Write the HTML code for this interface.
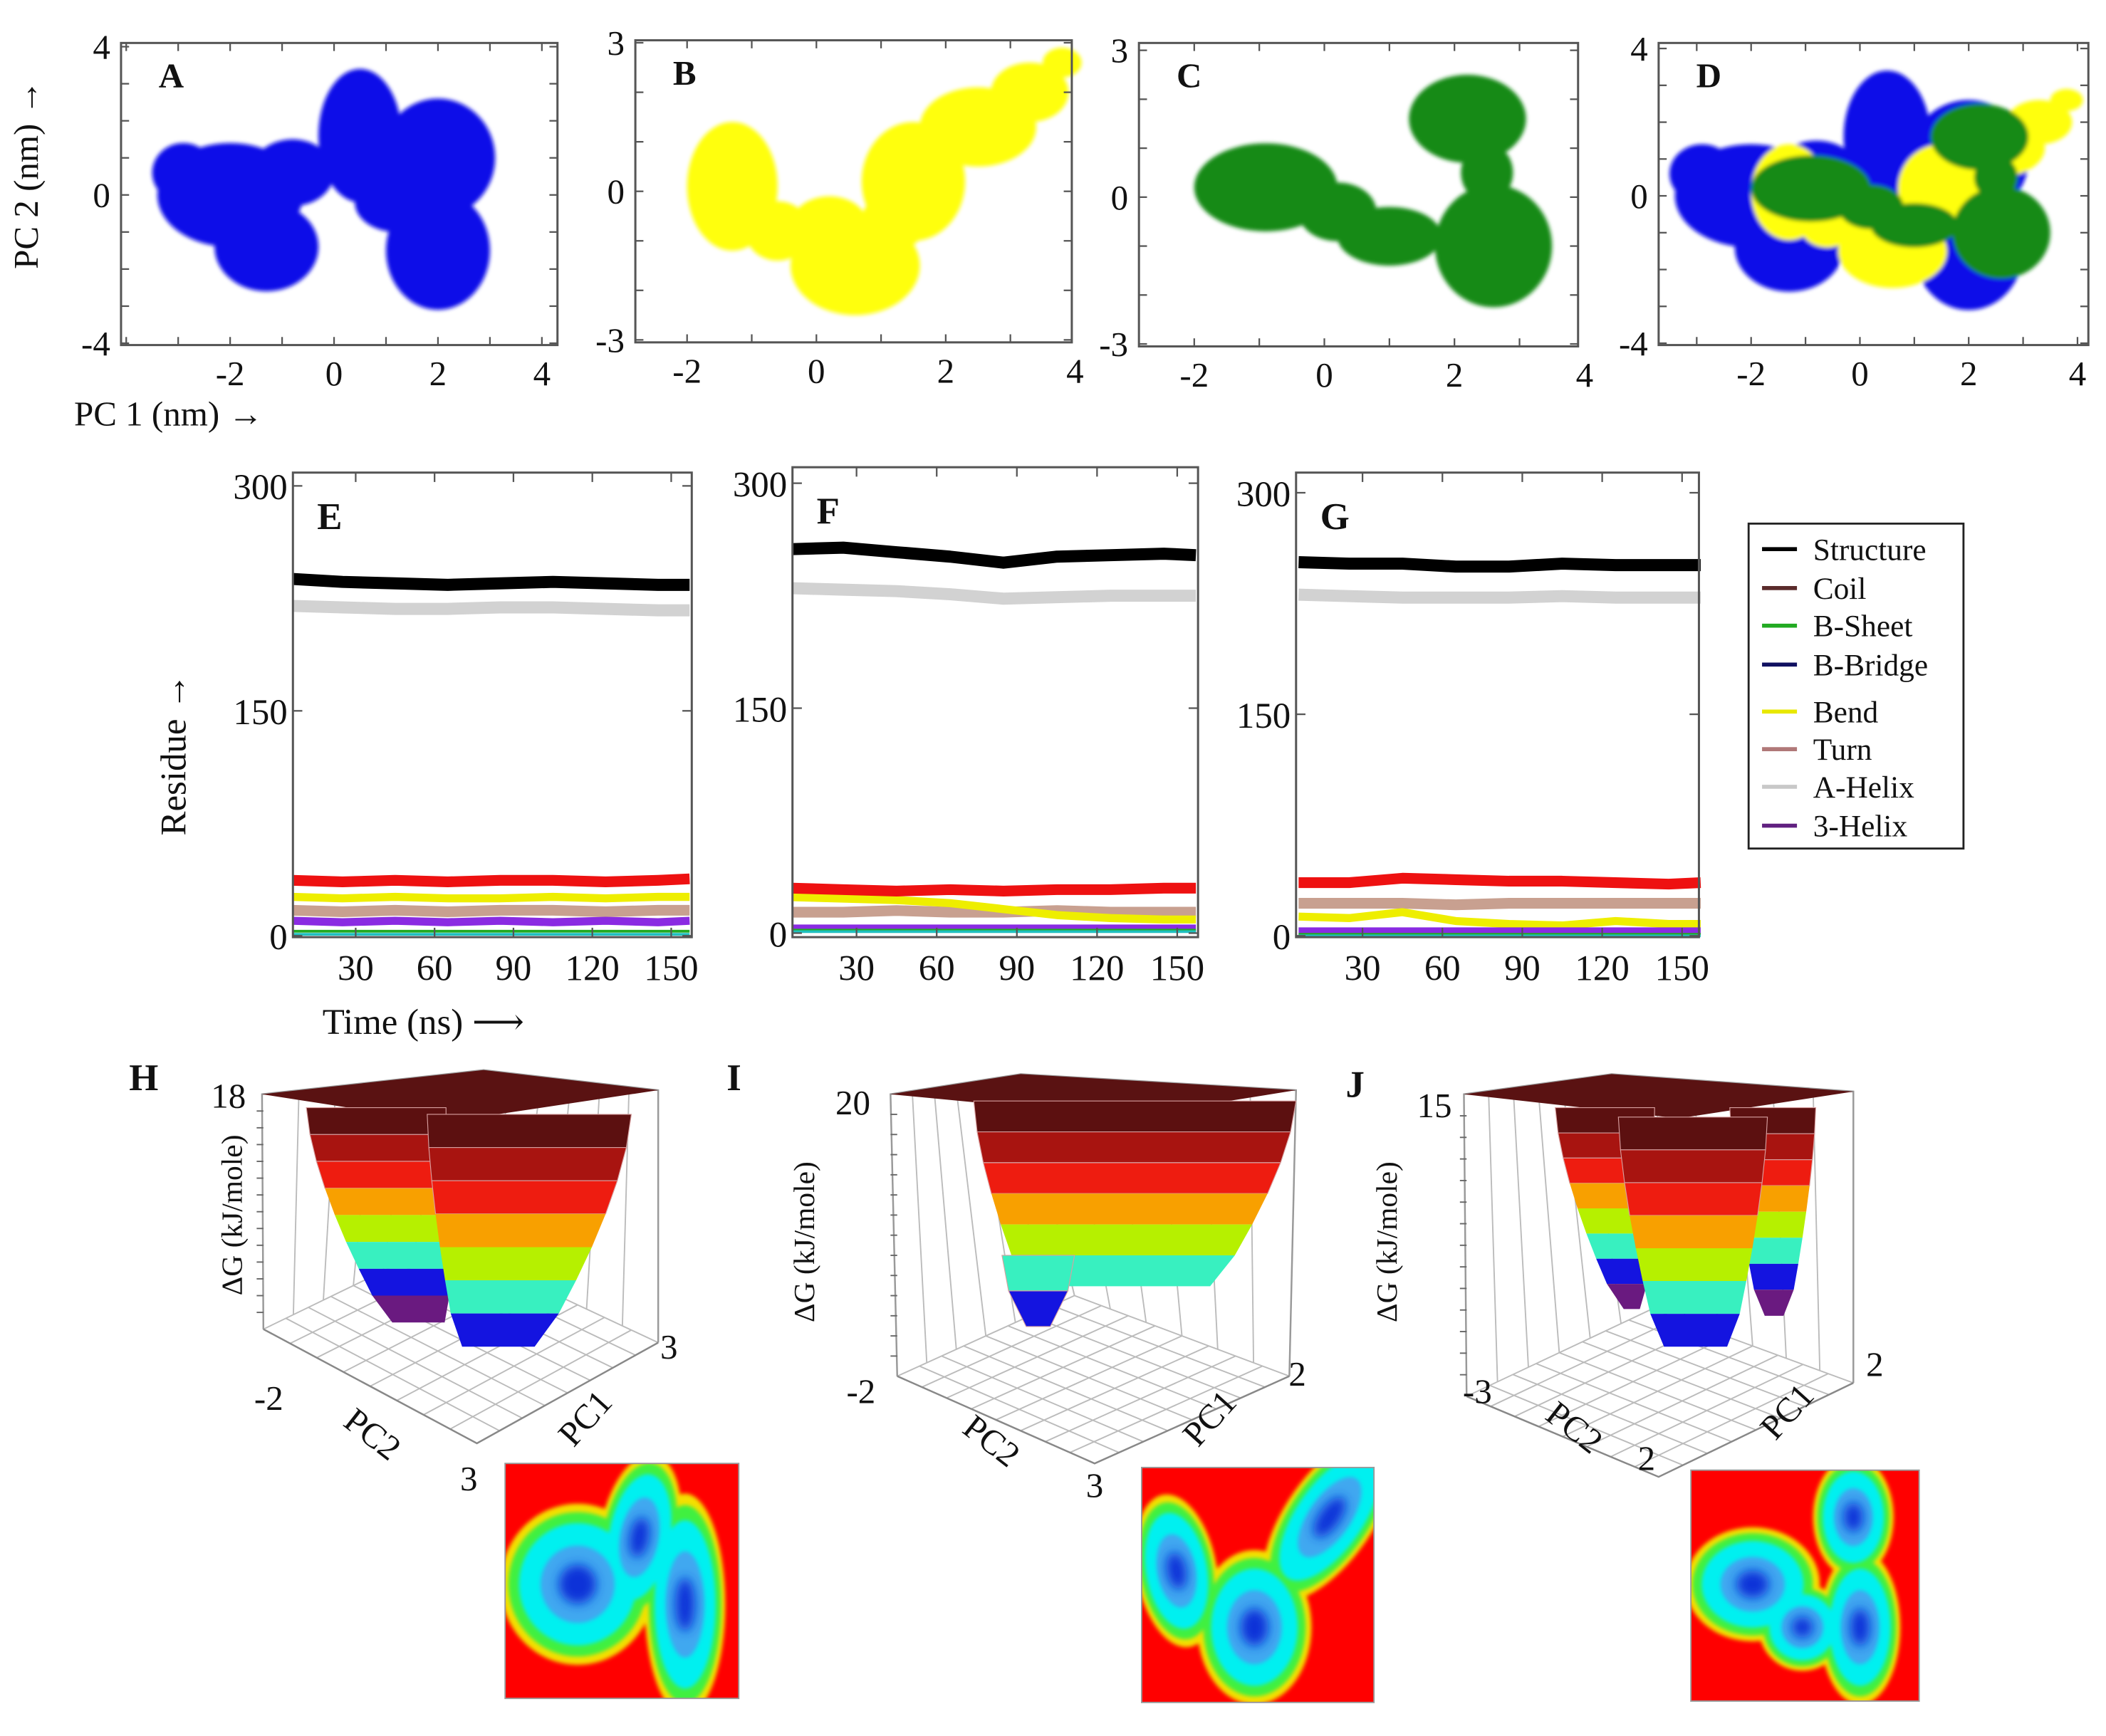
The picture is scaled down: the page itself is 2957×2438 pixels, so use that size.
<!DOCTYPE html>
<html><head><meta charset="utf-8"><title>PCA / DSSP / FEL figure</title>
<style>
html,body{margin:0;padding:0;background:#fff;}
svg{display:block;}
text{font-family:"Liberation Serif","DejaVu Serif",serif;fill:#111;}
</style></head>
<body>
<svg id="fig" xmlns="http://www.w3.org/2000/svg" width="2957" height="2438" viewBox="0 0 1568 1293">
<defs>
<filter id="fuzz" x="-10%" y="-10%" width="120%" height="120%"><feGaussianBlur stdDeviation="1.6"/></filter>
<filter id="soft" x="-20%" y="-20%" width="140%" height="140%"><feGaussianBlur stdDeviation="4"/></filter>
</defs>
<text x="28" y="130" font-size="26" transform="rotate(-90 28 130)" text-anchor="middle">PC 2 (nm) →</text>
<text x="55" y="317" font-size="26">PC 1 (nm) →</text>
<text x="138" y="562" font-size="27" transform="rotate(-90 138 562)" text-anchor="middle">Residue →</text>
<text x="240" y="770" font-size="27">Time (ns) ⟶</text>
</svg>
<script>
// ---------- scatter data (cluster centres / radii in PC units) ----------
const blueCx=[-2.0,-1.3,-0.8,0.5,2.0,2.0,1.2,-2.9];
const blueCy=[0.0,-1.4,0.6,1.6,1.0,-1.5,-0.2,0.6];
const blueRx=[1.4,1.0,0.8,0.8,1.1,1.0,0.8,0.6];
const blueRy=[1.4,1.2,0.9,1.8,1.6,1.6,0.8,0.8];
const yelCx=[-1.3,0.6,0.2,1.5,2.5,3.3,3.8,-0.6,1.2];
const yelCy=[0.1,-1.5,-0.7,0.2,1.3,2.0,2.6,-0.8,-0.6];
const yelRx=[0.7,1.0,0.6,0.8,0.9,0.6,0.3,0.5,0.5];
const yelRy=[1.3,1.0,0.6,1.2,0.8,0.6,0.3,0.6,0.6];
const grnCx=[-0.9,0.2,1.0,2.6,2.2,2.5];
const grnCy=[0.2,-0.3,-0.8,-1.0,1.6,0.5];
const grnRx=[1.1,0.6,0.8,0.9,0.9,0.4];
const grnRy=[0.9,0.6,0.6,1.25,0.9,0.6];

// ---------- DSSP time series (residues) ----------
const times=[6,25,45,65,85,105,125,145,157];
const seriesNames=['Structure','Coil','B-Sheet','B-Bridge','Bend','Turn','A-Helix','3-Helix'];
const legendColors=['#000000','#5a2b2b','#22aa22','#101060','#e8e800','#b07878','#c8c8c8','#602080'];
const E_structure=[238,236,235,234,235,236,235,234,234];
const E_ahelix=[220,219,218,218,219,219,218,217,217];
const E_coil=[37,36,37,36,37,37,36,37,38];
const E_bend=[26,25,26,25,25,26,25,26,26];
const E_turn=[17,16,17,16,17,17,16,17,17];
const E_helix3=[10,9,10,9,10,9,10,9,10];
const E_sheet=[3,3,3,3,3,3,3,3,3];
const E_bridge=[1,1,1,1,1,1,1,1,1];
const F_structure=[256,257,254,251,247,251,252,253,252];
const F_ahelix=[230,229,228,226,223,224,225,225,225];
const F_coil=[30,29,28,29,28,29,29,30,30];
const F_bend=[24,23,22,20,16,12,10,9,9];
const F_turn=[14,14,15,14,14,15,14,14,14];
const F_helix3=[3,3,3,3,3,3,3,3,3];
const F_sheet=[2,2,2,2,2,2,2,2,2];
const F_bridge=[1,1,1,1,1,1,1,1,1];
const G_structure=[253,252,252,250,250,252,251,251,251];
const G_ahelix=[231,230,229,229,229,230,229,229,229];
const G_coil=[36,36,39,38,37,37,36,35,36];
const G_turn=[22,22,22,21,22,22,22,22,22];
const G_bend=[13,12,16,10,8,7,10,8,8];
const G_helix3=[3,3,3,3,3,3,3,3,3];
const G_sheet=[1,1,1,1,1,1,1,1,1];
const G_bridge=[0,0,0,0,0,0,0,0,0];
const timeTicks=[30,60,90,120,150];
const resTicks=[0,150,300];

const svg=document.getElementById('fig');
const NS='http://www.w3.org/2000/svg';
function el(tag,attrs,parent){const e=document.createElementNS(NS,tag);for(const k in attrs)e.setAttribute(k,attrs[k]);(parent||svg).appendChild(e);return e;}

// ---------- scatter panels ----------
function scatterPanel(name,letter,box,xd,yd,xt,yt,clusters){
  const g=el('g',{});
  
  
  const sx=v=>box.x0+(v-xd[0])/(xd[1]-xd[0])*(box.x1-box.x0);
  const sy=v=>box.y1-(v-yd[0])/(yd[1]-yd[0])*(box.y1-box.y0);
  const cg=el('g',{filter:'url(#fuzz)'},g);
  clusters.forEach(c=>{
    for(let i=0;i<c.cx.length;i++){
      const e=el('ellipse',{cx:sx(c.cx[i]),cy:sy(c.cy[i]),rx:Math.abs(sx(c.rx[i])-sx(0)),ry:Math.abs(sy(c.ry[i])-sy(0)),fill:c.color},cg);
      
      
    }
  });
  const fr=el('rect',{x:box.x0,y:box.y0,width:box.x1-box.x0,height:box.y1-box.y0,fill:'none',stroke:'#555','stroke-width':1.6},g);
  
  
  for(let v=Math.ceil(xd[0]);v<=xd[1];v++){
    el('line',{x1:sx(v),x2:sx(v),y1:box.y1,y2:box.y1-6,stroke:'#555','stroke-width':1.2},g);
    el('line',{x1:sx(v),x2:sx(v),y1:box.y0,y2:box.y0+6,stroke:'#555','stroke-width':1.2},g);
  }
  for(let v=Math.ceil(yd[0]);v<=yd[1];v++){
    el('line',{x1:box.x0,x2:box.x0+6,y1:sy(v),y2:sy(v),stroke:'#555','stroke-width':1.2},g);
    el('line',{x1:box.x1,x2:box.x1-6,y1:sy(v),y2:sy(v),stroke:'#555','stroke-width':1.2},g);
  }
  xt.forEach(v=>{const t=el('text',{x:sx(v),y:box.y1+30,'font-size':26,'text-anchor':'middle'},g);t.textContent=v;
    
    });
  yt.forEach(v=>{const t=el('text',{x:box.x0-8,y:sy(v)+9,'font-size':26,'text-anchor':'end'},g);t.textContent=v;
    
    });
  const L=el('text',{x:box.x0+28,y:box.y0+33,'font-size':26,'font-weight':'bold'},g);L.textContent=letter;
  
  
}
const blue={cx:blueCx,cy:blueCy,rx:blueRx,ry:blueRy,color:'#0a0ae8',label:'blue'};
const yel={cx:yelCx,cy:yelCy,rx:yelRx,ry:yelRy,color:'#ffff10',label:'yellow'};
const grn={cx:grnCx,cy:grnCy,rx:grnRx,ry:grnRy,color:'#138a13',label:'green'};
scatterPanel('panel-a','A',{x0:90,x1:415,y0:32,y1:257},[-4.1,4.3],[-4.05,4.1],[-2,0,2,4],[-4,0,4],[blue]);
scatterPanel('panel-b','B',{x0:473,x1:798,y0:30,y1:255},[-2.8,3.95],[-3.05,3.05],[-2,0,2,4],[-3,0,3],[yel]);
scatterPanel('panel-c','C',{x0:848,x1:1175,y0:32,y1:258},[-2.85,3.9],[-3.05,3.15],[-2,0,2,4],[-3,0,3],[grn]);
scatterPanel('panel-d','D',{x0:1235,x1:1555,y0:32,y1:257},[-3.7,4.2],[-4.05,4.15],[-2,0,2,4],[-4,0,4],[blue,yel,grn]);

// ---------- DSSP panels ----------
function dsspPanel(name,letter,box,t0,r0,ser){
  const g=el('g',{});
  
  
  const sx=v=>t0.px+(v-0)*t0.k;
  const sy=v=>r0.px-v*r0.k;
  ser.forEach(s=>{
    const d=times.map((t,i)=>(i?'L':'M')+sx(t).toFixed(1)+' '+sy(s.v[i]).toFixed(1)).join(' ');
    const p=el('path',{d:d,fill:'none',stroke:s.c,'stroke-width':s.w,'stroke-linejoin':'round'},g);
    
    
  });
  const fr=el('rect',{x:box.x0,y:box.y0,width:box.x1-box.x0,height:box.y1-box.y0,fill:'none',stroke:'#555','stroke-width':1.6},g);
  
  
  timeTicks.forEach(v=>{
    el('line',{x1:sx(v),x2:sx(v),y1:box.y1,y2:box.y1-7,stroke:'#555','stroke-width':1.2},g);
    el('line',{x1:sx(v),x2:sx(v),y1:box.y0,y2:box.y0+7,stroke:'#555','stroke-width':1.2},g);
    const t=el('text',{x:sx(v),y:box.y1+32,'font-size':27,'text-anchor':'middle'},g);t.textContent=v;
    
    
  });
  resTicks.forEach(v=>{
    el('line',{x1:box.x0,x2:box.x0+7,y1:sy(v),y2:sy(v),stroke:'#555','stroke-width':1.2},g);
    el('line',{x1:box.x1,x2:box.x1-7,y1:sy(v),y2:sy(v),stroke:'#555','stroke-width':1.2},g);
    const t=el('text',{x:box.x0-4,y:sy(v)+10,'font-size':27,'text-anchor':'end'},g);t.textContent=v;
    
    
  });
  const L=el('text',{x:box.x0+18,y:box.y0+42,'font-size':28,'font-weight':'bold'},g);L.textContent=letter;
  
  
}
function mkSer(st,ah,co,be,tu,h3,sh,br){return[
 {n:'a-helix',v:ah,c:'#d2d2d2',w:9},{n:'structure',v:st,c:'#000',w:9},
 {n:'turn',v:tu,c:'#c8a090',w:8},{n:'bend',v:be,c:'#eeee00',w:6},{n:'coil',v:co,c:'#ee1111',w:8},
 {n:'3-helix',v:h3,c:'#8a2be2',w:6},{n:'b-sheet',v:sh,c:'#22aa22',w:2},{n:'b-bridge',v:br,c:'#20c0c0',w:2}];}
dsspPanel('panel-e','E',{x0:218,x1:515,y0:352,y1:698},{px:206,k:1.958},{px:697,k:1.117},mkSer(E_structure,E_ahelix,E_coil,E_bend,E_turn,E_helix3,E_sheet,E_bridge));
dsspPanel('panel-f','F',{x0:590,x1:892,y0:348,y1:698},{px:578,k:1.99},{px:695,k:1.117},mkSer(F_structure,F_ahelix,F_coil,F_bend,F_turn,F_helix3,F_sheet,F_bridge));
dsspPanel('panel-g','G',{x0:965,x1:1265,y0:352,y1:698},{px:955,k:1.983},{px:697,k:1.1},mkSer(G_structure,G_ahelix,G_coil,G_bend,G_turn,G_helix3,G_sheet,G_bridge));

// legend
const lg=el('g',{});


const lr=el('rect',{x:1302,y:390,width:160,height:242,fill:'#fff',stroke:'#222','stroke-width':1.5},lg);


const legY=[409,438,466,495,530,558,586,615];
seriesNames.forEach((n,i)=>{
  const ln=el('line',{x1:1312,x2:1338,y1:legY[i],y2:legY[i],stroke:legendColors[i],'stroke-width':3},lg);
  
  
  const t=el('text',{x:1350,y:legY[i]+8,'font-size':23},lg);t.textContent=n;
  
  
});

// ---------- 3D free-energy surfaces ----------
const bandColors=['#5c1010','#a81410','#ee1c10','#f8a000','#b6f000','#38f0c0','#1414e0','#6a1a80'];
function surface(name,letter,cfg){
  const g=el('g',{});
  
  
  const gs={stroke:'#bbb','stroke-width':1,fill:'none'};
  const [L,F,R,B]=cfg.floor;
  const [PL,PB,PR]=cfg.plateau; // plateau left, back, right
  for(let i=0;i<=8;i++){const f=i/8;
    el('line',Object.assign({x1:L[0]+(F[0]-L[0])*f,y1:L[1]+(F[1]-L[1])*f,x2:B[0]+(R[0]-B[0])*f,y2:B[1]+(R[1]-B[1])*f},gs),g);
    el('line',Object.assign({x1:L[0]+(B[0]-L[0])*f,y1:L[1]+(B[1]-L[1])*f,x2:F[0]+(R[0]-F[0])*f,y2:F[1]+(R[1]-F[1])*f},gs),g);
  }
  for(let i=0;i<=6;i++){const f=i/6;
    el('line',Object.assign({x1:L[0]+(B[0]-L[0])*f,y1:L[1]+(B[1]-L[1])*f,x2:PL[0]+(PB[0]-PL[0])*f,y2:PL[1]+(PB[1]-PL[1])*f},gs),g);
    el('line',Object.assign({x1:B[0]+(R[0]-B[0])*f,y1:B[1]+(R[1]-B[1])*f,x2:PB[0]+(PR[0]-PB[0])*f,y2:PB[1]+(PR[1]-PB[1])*f},gs),g);
  }
  el('polyline',{points:[L,PL,PB,PR,R].map(p=>p.join(',')).join(' '),fill:'none',stroke:'#999','stroke-width':1.3},g);
  el('polyline',{points:[L,F,R].map(p=>p.join(',')).join(' '),fill:'none',stroke:'#888','stroke-width':1.3},g);
  for(let i=1;i<14;i++){const y=L[1]-(L[1]-PL[1])*i/14;el('line',{x1:L[0]-5,x2:L[0],y1:y,y2:y,stroke:'#666','stroke-width':1},g);}
  const pl=el('polygon',{points:cfg.plateau.map(p=>p.join(',')).join(' '),fill:'#5a1212'},g);
  
  
  cfg.lobes.forEach(lb=>{
    const [xl0,xr0,xl1,xr1,y0,y1,c0,c1]=lb; const n=c1-c0+1;
    for(let k=0;k<n;k++){
      const fa=k/n, fb=(k+1)/n;
      const ease=f=>Math.pow(f,1.5);
      const ya=y0+(y1-y0)*fa, yb=y0+(y1-y0)*fb;
      const pts=[[xl0+(xl1-xl0)*ease(fa),ya],[xr0+(xr1-xr0)*ease(fa),ya],[xr0+(xr1-xr0)*ease(fb),yb],[xl0+(xl1-xl0)*ease(fb),yb]];
      if(k===n-1){pts[2][0]-=4;pts[3][0]+=4;}
      const b=el('polygon',{points:pts.map(p=>p.map(v=>v.toFixed(1)).join(',')).join(' '),fill:bandColors[c0+k],stroke:'#d8a0a0','stroke-width':k<3?0.6:0},g);
      
      
    }
  });
  const lt=el('text',{x:cfg.letter[0],y:cfg.letter[1],'font-size':28,'font-weight':'bold'},g);lt.textContent=letter;
  
  
  cfg.labels.forEach(l=>{
    const t=el('text',{x:l[1],y:l[2],'font-size':l[4]||26,'text-anchor':'middle',transform:'rotate('+l[3]+' '+l[1]+' '+l[2]+')'},g);t.textContent=l[0];
    
    
  });
}
surface('panel-h','H',{floor:[[196,990],[355,1075],[490,1000],[330,925]],
  plateau:[[195,815],[360,797],[490,812],[330,836]],
  lobes:[[228,332,288,335,825,985,0,7],[318,470,340,402,830,1003,0,6]],
  letter:[96,812],labels:[['18',170,825,0],['ΔG (kJ/mole)',180,905,-90,22],['-2',200,1050,0],['PC2',272,1075,38],['3',349,1110,0],['PC1',442,1062,-48],['3',498,1012,0]]});
surface('panel-i','I',{floor:[[668,1025],[815,1090],[960,1025],[800,965]],
  plateau:[[663,815],[760,800],[965,812],[840,832]],
  lobes:[[725,965,762,905,820,958,0,5],[746,800,760,786,935,988,5,6]],
  letter:[541,812],labels:[['20',635,830,0],['ΔG (kJ/mole)',606,925,-90,22],['-2',641,1045,0],['PC2',733,1080,38],['3',815,1115,0],['PC1',907,1062,-48],['2',966,1032,0]]});
surface('panel-j','J',{floor:[[1092,1040],[1235,1100],[1380,1030],[1230,975]],
  plateau:[[1090,815],[1200,800],[1380,813],[1250,833]],
  lobes:[[1158,1232,1205,1225,825,975,0,7],[1288,1352,1310,1332,825,980,0,7],[1205,1316,1235,1290,832,1003,0,6]],
  letter:[1002,817],labels:[['15',1068,832,0],['ΔG (kJ/mole)',1040,925,-90,22],['-3',1100,1045,0],['PC2',1167,1070,38],['2',1226,1095,0],['PC1',1337,1057,-48],['2',1396,1025,0]]});

// ---------- 2D FEL heatmaps ----------
const hmBlobs={
 h:{cx:[430,476,510],cy:[1180,1145,1195],rx:[46,24,24],ry:[48,50,66]},
 i:{cx:[876,934,990],cy:[1170,1212,1130],rx:[24,34,26],ry:[46,46,58]},
 j:{cx:[1305,1380,1385,1342],cy:[1180,1130,1212,1212],rx:[40,24,24,26],ry:[34,36,46,26]}};
const hmRot={h:[0,10,0],i:[-10,0,35],j:[0,0,0,0]};
function heatmap(name,key,box){
  const g=el('g',{});
  
  
  const cp=el('clipPath',{id:'clip-'+key},g);
  el('rect',{x:box[0],y:box[1],width:box[2]-box[0],height:box[3]-box[1]},cp);
  el('rect',{x:box[0],y:box[1],width:box[2]-box[0],height:box[3]-box[1],fill:'#ff0000'},g);
  const inner=el('g',{'clip-path':'url(#clip-'+key+')'},g);
  const b=hmBlobs[key];
  const layers=[[1.25,'#f4e000'],[1.12,'#40f040'],[0.95,'#00f0f0'],[0.6,'#40a8f0'],[0.3,'#1030d8']];
  layers.forEach(([s,c],li)=>{
    const lg2=el('g',{filter:li===4?'url(#soft)':'url(#fuzz)'},inner);
    for(let i=0;i<b.cx.length;i++){
      const e=el('ellipse',{cx:b.cx[i],cy:b.cy[i],rx:b.rx[i]*s,ry:b.ry[i]*s,fill:c,transform:'rotate('+hmRot[key][i]+' '+b.cx[i]+' '+b.cy[i]+')'},lg2);
      
      
    }
  });
  el('rect',{x:box[0],y:box[1],width:box[2]-box[0],height:box[3]-box[1],fill:'none',stroke:'#999','stroke-width':1},g);
}
heatmap('heatmap-h','h',[376,1090,550,1265]);
heatmap('heatmap-i','i',[850,1093,1023,1268]);
heatmap('heatmap-j','j',[1259,1095,1429,1267]);
</script>
</body></html>
